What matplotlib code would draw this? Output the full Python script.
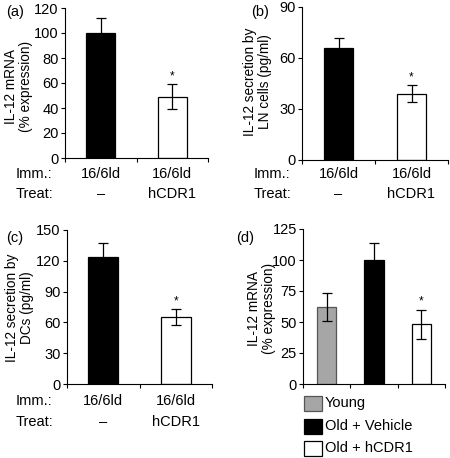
import matplotlib
matplotlib.use('Agg')
import matplotlib.pyplot as plt
from matplotlib.patches import Rectangle
from matplotlib.transforms import blended_transform_factory

plt.rcParams['font.family'] = ['Liberation Sans', 'DejaVu Sans']
plt.rcParams['font.size'] = 10.5

W, H = 450, 458

# данные панелей
a_vals = [100, 49]
a_err = [12, 10]
b_vals = [66, 39]
b_err = [6, 5]
c_vals = [124, 65]
c_err = [13, 8]
d_vals = [62, 100, 48]
d_err = [11, 14, 12]

imm_labels = ['16/6ld', '16/6ld']
treat_labels = ['–', 'hCDR1']
d_groups = ['Young', 'Old + Vehicle', 'Old + hCDR1']
d_colors = ['#a6a6a6', 'black', 'white']
d_edges = ['#555555', 'black', 'black']


def fy(y):
    return 1 - y / H


def box(l, t, r, b):
    return [l / W, fy(b), (r - l) / W, (b - t) / H]


fig = plt.figure(figsize=(W / 100, H / 100), dpi=100)


def make_panel(rect, vals, errs, colors, edges, ymax, ystep, ylabel, lab_xy, star_idx):
    ax = fig.add_axes(rect)
    x = list(range(len(vals)))
    ax.bar(x, vals, width=0.41, color=colors, edgecolor=edges, linewidth=0.9, zorder=2)
    ax.errorbar(x, vals, yerr=errs, fmt='none', ecolor='black', elinewidth=0.9,
                capsize=3.5, capthick=0.9, zorder=3)
    ax.annotate('*', xy=(star_idx, vals[star_idx] + errs[star_idx]), xytext=(0, 1.5),
                textcoords='offset points', ha='center', va='bottom', fontsize=8.5)
    ax.set_xlim(-0.5, len(vals) - 0.5)
    ax.set_ylim(0, ymax)
    ax.set_yticks(range(0, ymax + 1, ystep))
    ax.set_xticks([i - 0.5 for i in range(len(vals) + 1)])
    ax.set_xticklabels([])
    ax.tick_params(axis='y', direction='out', length=3, width=0.8, pad=1.5)
    ax.tick_params(axis='x', direction='out', length=3, width=0.8)
    for s in ['top', 'right']:
        ax.spines[s].set_visible(False)
    for s in ['left', 'bottom']:
        ax.spines[s].set_linewidth(0.8)
    ax.set_ylabel(ylabel, fontsize=9.8, linespacing=1.05)
    ax.yaxis.set_label_coords(lab_xy[0] / W, fy(lab_xy[1]), transform=fig.transFigure)
    return ax


def add_rows(ax, left_x, y_imm, y_treat):
    tr = blended_transform_factory(ax.transData, fig.transFigure)
    for i in range(2):
        ax.text(i, fy(y_imm), imm_labels[i], transform=tr, ha='center', va='center')
        ax.text(i, fy(y_treat), treat_labels[i], transform=tr, ha='center', va='center')
    fig.text(left_x / W, fy(y_imm), 'Imm.:', ha='left', va='center')
    fig.text(left_x / W, fy(y_treat), 'Treat:', ha='left', va='center')


# (a)
ax_a = make_panel(box(65, 8, 208, 158), a_vals, a_err, ['black', 'white'], ['black', 'black'],
                  120, 20, 'IL-12 mRNA\n(% expression)', (33, 86), 1)
add_rows(ax_a, 16, 174, 194)
fig.text(6 / W, fy(12), '(a)', ha='left', va='center')

# (b)
ax_b = make_panel(box(302, 7, 448, 160), b_vals, b_err, ['black', 'white'], ['black', 'black'],
                  90, 30, 'IL-12 secretion by\nLN cells (pg/ml)', (272, 82), 1)
add_rows(ax_b, 254, 174, 194)
fig.text(251 / W, fy(12), '(b)', ha='left', va='center')

# (c)
ax_c = make_panel(box(67, 230, 212, 384), c_vals, c_err, ['black', 'white'], ['black', 'black'],
                  150, 30, 'IL-12 secretion by\nDCs (pg/ml)', (34, 308), 1)
add_rows(ax_c, 16, 401, 422)
fig.text(6 / W, fy(238), '(c)', ha='left', va='center')

# (d)
ax_d = make_panel(box(303, 229, 445, 384), d_vals, d_err, d_colors, d_edges,
                  125, 25, 'IL-12 mRNA\n(% expression)', (276, 308), 2)
fig.text(236 / W, fy(238), '(d)', ha='left', va='center')

# легенда панели (d)
leg_y = [396, 419, 441]
for name, col, ec, y in zip(d_groups, d_colors, d_edges, leg_y):
    fig.add_artist(Rectangle((304 / W, fy(y + 15)), 18 / W, 15 / H, transform=fig.transFigure,
                             facecolor=col, edgecolor=ec, linewidth=0.9))
    fig.text(325 / W, fy(y + 7.5), name, ha='left', va='center')

fig.savefig('out.png', dpi=100)
